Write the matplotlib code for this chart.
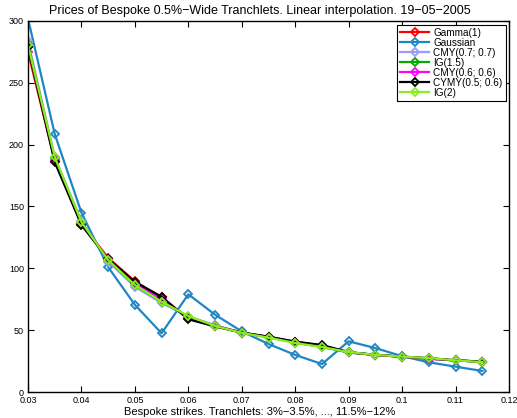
import matplotlib
matplotlib.use("Agg")
import matplotlib.pyplot as plt

strikes = [0.03, 0.035, 0.04, 0.045, 0.05, 0.055, 0.06, 0.065, 0.07, 0.075,
           0.08, 0.085, 0.09, 0.095, 0.1, 0.105, 0.11, 0.115]

gamma1  = [275, 187, 136, 108.5, 89.5, 76.5, 59.5, 53.5, 48, 44.5, 40.5, 37.5, 32, 30, 28.5, 27, 25.5, 24.5]
gauss   = [302, 208.6, 145, 101, 70.5, 47.5, 79, 62.5, 49, 38.8, 30, 22.6, 41, 35.5, 29, 24, 20.5, 17]
cmy07   = [284, 190, 138, 105.5, 85, 72, 61, 54, 48, 44.5, 40, 36.5, 32, 30, 28.5, 27, 25.5, 24.5]
ig15    = [281, 189, 137, 106.5, 86.5, 73, 61, 53.5, 48, 44.5, 40, 36.5, 32, 30, 28.5, 27, 25.5, 24.5]
cmy06   = [279, 188, 136.5, 107.5, 88, 75, 60, 53.5, 48, 44.5, 40.5, 37.5, 32, 30, 28.5, 27, 25.5, 24.5]
cymy    = [279, 186, 135, 107.5, 89, 77, 58.8, 53, 48, 44.8, 40.7, 38, 32.3, 30, 28.6, 27.4, 25.6, 24.6]
ig2     = [280.5, 190, 137.4, 106.7, 86.5, 73, 61.4, 53.4, 47.8, 44, 39.6, 36.4, 32.3, 30, 28.6, 27.4, 25.6, 24.2]

labels = ["Gamma(1)", "Gaussian", "CMY(0.7; 0.7)", "IG(1.5)", "CMY(0.6; 0.6)", "CYMY(0.5; 0.6)", "IG(2)"]
series = [gamma1, gauss, cmy07, ig15, cmy06, cymy, ig2]
colors = ["#ff0000", "#1f86c6", "#9a9aff", "#00aa00", "#ff00ff", "#000000", "#88ee22"]

xticks = [0.03, 0.04, 0.05, 0.06, 0.07, 0.08, 0.09, 0.1, 0.11, 0.12]
xticklabels = ["0.03", "0.04", "0.05", "0.06", "0.07", "0.08", "0.09", "0.1", "0.11", "0.12"]
yticks = [0, 50, 100, 150, 200, 250, 300]

plt.rcParams['font.family'] = ['Liberation Sans', 'DejaVu Sans']

fig = plt.figure(figsize=(5.17, 4.18), dpi=100)
ax = fig.add_axes([28/517, 1-392/418, (509-28)/517, (392-21)/418])

for y, lab, c in zip(series, labels, colors):
    ax.plot(strikes, y, color=c, lw=1.6, marker='D', ms=4.5, mfc='none', mew=1.3, label=lab)

ax.set_xlim(0.03, 0.12)
ax.set_ylim(0, 300)
ax.set_xticks(xticks)
ax.set_xticklabels(xticklabels)
ax.set_yticks(yticks)
ax.tick_params(direction='in', top=True, right=True, labelsize=6.5, length=4, width=0.8, pad=3)
for s in ax.spines.values():
    s.set_linewidth(1.0)

ax.set_title("Prices of Bespoke 0.5%\u2212Wide Tranchlets. Linear interpolation. 19\u221205\u22122005",
             fontsize=9, pad=5, x=0.482)
ax.set_xlabel("Bespoke strikes. Tranchlets: 3%\u22123.5%, ..., 11.5%\u221212%", fontsize=8, labelpad=1)
ax.xaxis.set_label_coords(0.482, -0.04, transform=ax.transAxes)
ax.xaxis.label.set_va('top')

leg = ax.legend(loc='upper right', fontsize=7.2, fancybox=False, framealpha=1,
                edgecolor='black', borderpad=0.3, labelspacing=0.0, handlelength=2.9,
                handletextpad=0.4, borderaxespad=0.35)
leg.get_frame().set_linewidth(0.8)

fig.savefig("out.png", dpi=100)
